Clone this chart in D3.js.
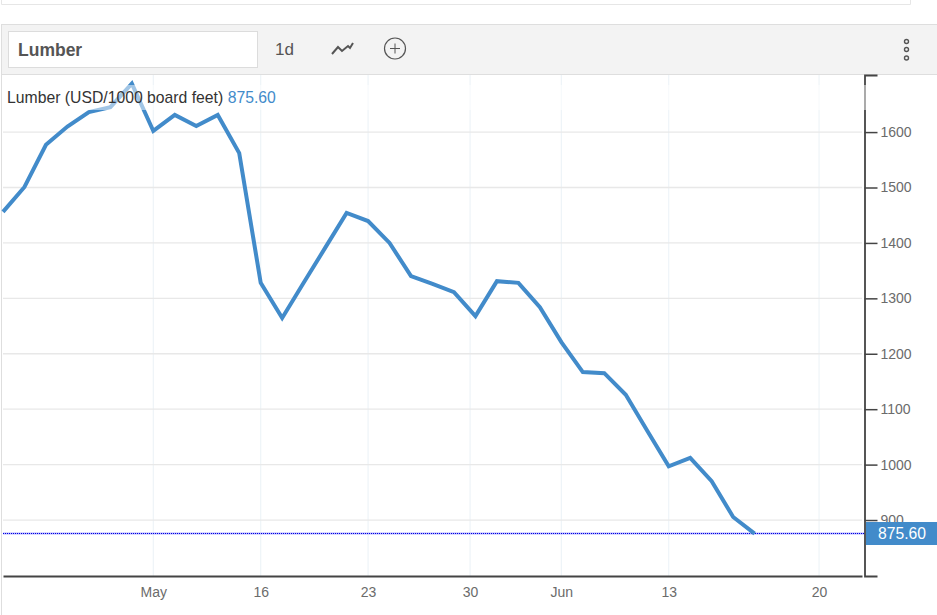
<!DOCTYPE html>
<html>
<head>
<meta charset="utf-8">
<title>Lumber</title>
<script src="https://d3js.org/d3.v7.min.js"></script>
<style>
  body { margin: 0; background: #fff; }
  svg { display: block; font-family: "Liberation Sans", Arial, sans-serif; }
</style>
</head>
<body>
<div id="my_dataviz"></div>
<script>

// values, one per trading day
var prices = [1456, 1501, 1577, 1610, 1636, 1645, 1687.5, 1602, 1631, 1611, 1631, 1562,
  1328, 1264.5, 1328, 1391, 1454, 1439.5, 1400, 1340, 1326, 1311, 1268, 1331, 1328,
  1284, 1221, 1167, 1165, 1126, 1061, 997, 1012, 970, 905.5, 875.6];
var lastPrice = 875.60;

var yTicks = [900, 1000, 1100, 1200, 1300, 1400, 1500, 1600];
var xLabels = ["May", "16", "23", "30", "Jun", "13", "20"];
// position of each label, counted in trading days from the first point
var xLabelDays = [7, 12, 17, 21.75, 26, 31, 38];

var width = 937, height = 615;
var plot = { left: 3, right: 864, top: 75, bottom: 576 };

var blue = "#428bca";

var svg = d3.select("#my_dataviz")
  .append("svg")
  .attr("width", width)
  .attr("height", height);

var x = d3.scaleLinear().domain([0, 40]).range([plot.left, plot.right - 2]);
var y = d3.scaleLinear().domain([799, 1703]).range([plot.bottom, plot.top]);

// box left over from the page above the widget
svg.append("path")
  .attr("d", "M1.5,0V4.5H910.5V0")
  .attr("fill", "none")
  .attr("stroke", "#e6e6e6");

// widget frame and header
svg.append("rect")
  .attr("x", 1.5).attr("y", 24.5)
  .attr("width", 940).attr("height", 50)
  .attr("fill", "#f3f3f3")
  .attr("stroke", "#dedede");
svg.append("line")
  .attr("x1", 1.5).attr("x2", 1.5)
  .attr("y1", 74).attr("y2", 615)
  .attr("stroke", "#dedede");

svg.append("rect")
  .attr("x", 8.5).attr("y", 31.5)
  .attr("width", 249).attr("height", 36)
  .attr("fill", "#fff")
  .attr("stroke", "#dcdcdc");
svg.append("text")
  .attr("x", 18).attr("y", 56)
  .attr("font-size", 17.5)
  .attr("font-weight", "bold")
  .attr("fill", "#555")
  .text("Lumber");
svg.append("text")
  .attr("x", 275).attr("y", 54.5)
  .attr("font-size", 17)
  .attr("fill", "#555")
  .text("1d");

// chart type icon
svg.append("path")
  .attr("d", "M332,54L338,47L342,51L348,46L350,48L353,43")
  .attr("fill", "none")
  .attr("stroke", "#555")
  .attr("stroke-width", 2);

// add indicator icon
svg.append("circle")
  .attr("cx", 395).attr("cy", 48.5).attr("r", 10.5)
  .attr("fill", "none")
  .attr("stroke", "#555")
  .attr("stroke-width", 1.2);
svg.append("path")
  .attr("d", "M390,48.5H400M395,43.5V53.5")
  .attr("stroke", "#555");

// menu dots
svg.selectAll("circle.dot")
  .data([41.5, 49.5, 58])
  .enter()
  .append("circle")
  .attr("class", "dot")
  .attr("cx", 906.5)
  .attr("cy", function(d) { return d; })
  .attr("r", 2)
  .attr("fill", "none")
  .attr("stroke", "#555")
  .attr("stroke-width", 1.4);

// grid
svg.append("g")
  .selectAll("line")
  .data(xLabelDays)
  .enter()
  .append("line")
  .attr("x1", function(d) { return x(d); })
  .attr("x2", function(d) { return x(d); })
  .attr("y1", plot.top)
  .attr("y2", plot.bottom)
  .attr("stroke", "#eef4f8")
  .attr("stroke-width", 1.2);

svg.append("g")
  .selectAll("line")
  .data(yTicks)
  .enter()
  .append("line")
  .attr("x1", plot.left)
  .attr("x2", plot.right - 2)
  .attr("y1", function(d) { return y(d); })
  .attr("y2", function(d) { return y(d); })
  .attr("stroke", "#e8e8e8")
  .attr("stroke-width", 1.3);

// Y axis
var yAxis = svg.append("g")
  .attr("transform", "translate(" + (plot.right + 0.5) + ",0)")
  .call(d3.axisRight(y).tickValues(yTicks).tickSizeInner(13).tickSizeOuter(13).tickPadding(3).tickFormat(d3.format("d")));
yAxis.selectAll("line").attr("stroke", "#444").attr("stroke-width", 1.5);
yAxis.select("path").attr("stroke", "#444").attr("stroke-width", 1.8);
yAxis.selectAll("text")
  .attr("font-family", "'Liberation Sans', Arial, sans-serif")
  .attr("font-size", 14)
  .attr("fill", "#6b6b6b");

// X axis
var xAxis = svg.append("g")
  .attr("transform", "translate(0," + (plot.bottom) + ")")
  .call(d3.axisBottom(x)
    .tickValues(xLabelDays)
    .tickSize(0)
    .tickPadding(11)
    .tickFormat(function(d, i) { return xLabels[i]; }));
xAxis.select("path").attr("stroke", "#444").attr("stroke-width", 2);
xAxis.selectAll("text")
  .attr("font-family", "'Liberation Sans', Arial, sans-serif")
  .attr("font-size", 14)
  .attr("fill", "#6b6b6b");

// last price line: pale solid under blue dots
var lastY = Math.floor(y(lastPrice)) + 0.5;
svg.append("line")
  .attr("x1", plot.left)
  .attr("x2", plot.right)
  .attr("y1", lastY)
  .attr("y2", lastY)
  .attr("stroke", "#b4b4ff")
  .attr("stroke-width", 2);
svg.append("line")
  .attr("x1", plot.left)
  .attr("x2", plot.right)
  .attr("y1", lastY)
  .attr("y2", lastY)
  .attr("stroke", "#0000e0")
  .attr("stroke-dasharray", "1,1");

// price line
var line = d3.line()
  .x(function(d, i) { return x(i); })
  .y(function(d) { return y(d); });

svg.append("path")
  .datum(prices)
  .attr("d", line)
  .attr("fill", "none")
  .attr("stroke", blue)
  .attr("stroke-width", 4)
  .attr("stroke-linejoin", "miter");

// last price box sits over the 900 label
svg.append("rect")
  .attr("x", 866).attr("y", lastY - 11.5)
  .attr("width", 71).attr("height", 23)
  .attr("fill", blue);
svg.append("text")
  .attr("x", 902).attr("y", lastY + 5.5)
  .attr("text-anchor", "middle")
  .attr("font-size", 15.7)
  .attr("fill", "#fff")
  .text(d3.format(".2f")(lastPrice));

// legend band washes out whatever is behind it
svg.append("rect")
  .attr("x", plot.left).attr("y", 85)
  .attr("width", plot.right - plot.left + 2).attr("height", 25)
  .attr("fill", "#fff")
  .attr("fill-opacity", 0.5);

var legend = svg.append("text")
  .attr("x", 7).attr("y", 102.5)
  .attr("font-size", 15.75)
  .attr("fill", "#333");
legend.append("tspan").text("Lumber (USD/1000 board feet) ");
legend.append("tspan").attr("fill", blue).text(d3.format(".2f")(lastPrice));

</script>
</body>
</html>
